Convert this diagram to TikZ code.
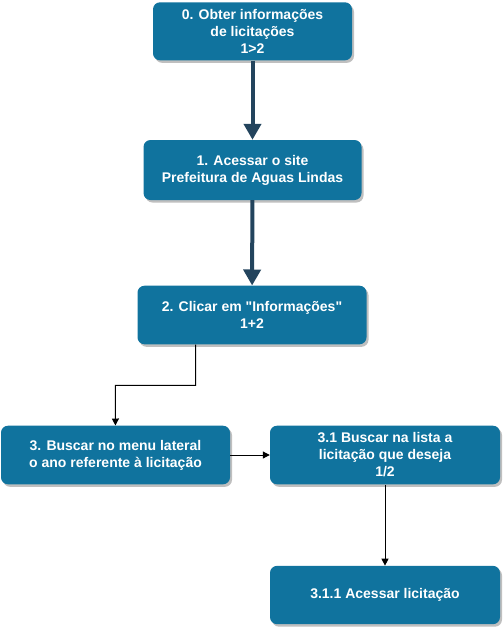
\documentclass[tikz,border=0pt]{standalone}
\usepackage{fontspec}
\setmainfont{Liberation Sans}
\usetikzlibrary{arrows.meta,shadows}
\definecolor{boxblue}{HTML}{10739E}
\definecolor{darkarrow}{HTML}{23445D}
\tikzset{
  stepbox/.style={rectangle,rounded corners=7pt,fill=boxblue,text=white,
    font=\fontsize{14}{17}\selectfont\bfseries,align=center,inner sep=0pt,
    drop shadow={shadow xshift=2pt,shadow yshift=-2.5pt,opacity=0.25,fill=black}},
  bigarrow/.style={draw=darkarrow,line width=4pt,-{Triangle[length=16pt,width=17pt]}},
  thinarrow/.style={draw=black,line width=1pt,-{Triangle[length=7pt,width=7pt]}}
}
\begin{document}
\begin{tikzpicture}[x=1pt,y=-1pt]
\useasboundingbox (0,0) rectangle (504,630);
\coordinate (B0) at (252.5,31.3);
\coordinate (B1) at (252.5,170);
\coordinate (B2) at (252,315);
\coordinate (B3) at (115.5,455);
\coordinate (B31) at (385,455);
\coordinate (B311) at (385,595);
\coordinate (E1) at (195.7,385.3);
\coordinate (E2) at (115.3,385.3);
\node[stepbox,minimum width=199pt,minimum height=58pt] (obter) at (B0)
  {0. Obter informações\\de licitações\\1>2};
\node[stepbox,minimum width=218pt,minimum height=60pt] (acessar) at (B1)
  {1. Acessar o site\\Prefeitura de Aguas Lindas};
\node[stepbox,minimum width=229pt,minimum height=58.6pt] (clicar) at (B2)
  {2. Clicar em \textquotedbl Informações\textquotedbl\\1+2};
\node[stepbox,minimum width=229pt,minimum height=58.6pt] (menu) at (B3)
  {3. Buscar no menu lateral\\o ano referente à licitação};
\node[stepbox,minimum width=230pt,minimum height=58.6pt] (lista) at (B31)
  {3.1 Buscar na lista a\\licitação que deseja\\1/2};
\node[stepbox,minimum width=230pt,minimum height=58.3pt] (licit) at (B311)
  {3.1.1 Acessar licitação};
\draw[bigarrow] (obter) -- (acessar);
\draw[bigarrow] (acessar) -- (clicar);
\draw[thinarrow] (clicar.south -| E1) -- (E1) -- (E2) -- (menu);
\draw[thinarrow] (menu) -- (lista);
\draw[thinarrow] (lista) -- (licit);
\end{tikzpicture}
\end{document}
